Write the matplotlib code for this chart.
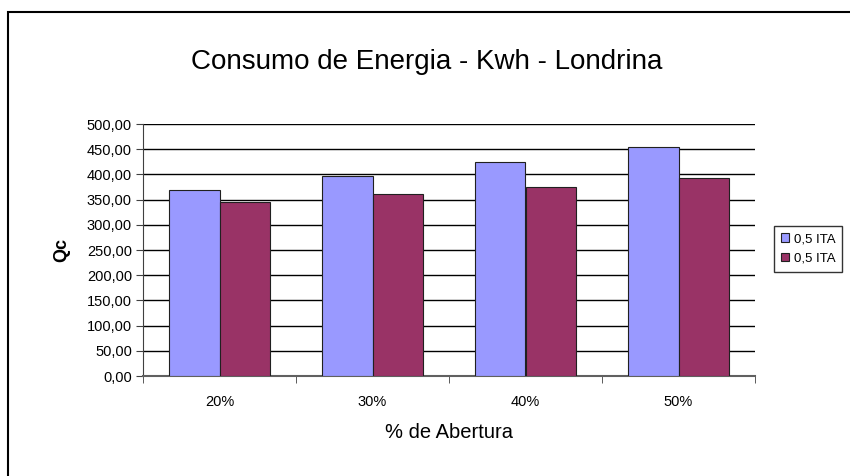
import matplotlib
matplotlib.use("Agg")
import matplotlib.pyplot as plt
import numpy as np
from matplotlib.patches import Rectangle

categories = ["20%", "30%", "40%", "50%"]
series_names = ["0,5 ITA", "0,5 ITA"]
blue_values = [369, 397, 425, 454]
red_values = [345, 362, 375, 393]
y_ticks = [0, 50, 100, 150, 200, 250, 300, 350, 400, 450, 500]
y_tick_labels = ["0,00", "50,00", "100,00", "150,00", "200,00", "250,00",
                 "300,00", "350,00", "400,00", "450,00", "500,00"]

plt.rcParams['font.family'] = ['Liberation Sans', 'DejaVu Sans']

fig = plt.figure(figsize=(8.5, 4.76), dpi=100)
fig.patch.set_facecolor('white')
ax = fig.add_axes([143/850, 1-376/476, (755-143)/850, (376-124)/476])

x = np.arange(len(categories))
w = 0.333
ax.bar(x - w/2, blue_values, width=w, color='#9999FF', edgecolor='#202020', linewidth=0.8,
       label=series_names[0], zorder=3)
ax.bar(x + w/2, red_values, width=w, color='#993366', edgecolor='#202020', linewidth=0.8,
       label=series_names[1], zorder=3)

ax.set_xlim(-0.5, len(categories) - 0.5)
ax.set_ylim(0, 500)
ax.set_yticks(y_ticks)
ax.set_yticklabels(y_tick_labels, fontsize=10.5)
ax.yaxis.grid(True, color='black', linewidth=1.0, zorder=0)
ax.set_axisbelow(True)

ax.set_xticks(x)
ax.set_xticklabels(categories, fontsize=10.5)
ax.tick_params(axis='x', length=0, pad=14)
ax.set_xticks(np.arange(-0.5, len(categories)), minor=True)
ax.tick_params(axis='x', which='minor', length=5, color='#404040', direction='out')
ax.tick_params(axis='y', length=5, color='#404040', direction='out', pad=3)

for s in ['top', 'right']:
    ax.spines[s].set_visible(False)
ax.spines['left'].set_color('#404040')
ax.spines['bottom'].set_color('#606060')
ax.spines['bottom'].set_linewidth(1.5)

ax.set_xlabel("% de Abertura", fontsize=14.5, labelpad=10)
ax.set_ylabel("Qc", fontsize=13, fontweight='bold', labelpad=12)

fig.text(427/850, 1-62/476, "Consumo de Energia - Kwh - Londrina", fontsize=20,
         ha='center', va='center')

leg = ax.legend(loc='center left', bbox_to_anchor=(774/850, 1-249/476),
                bbox_transform=fig.transFigure, fontsize=9.5, frameon=True,
                fancybox=False, edgecolor='black', handlelength=0.6, handleheight=0.6,
                handletextpad=0.4, borderpad=0.5, labelspacing=0.6, borderaxespad=0)
leg.get_frame().set_linewidth(1.0)

fig.patches.append(Rectangle((8/850, -0.1), 1.0, 1.1 - 12/476 + 0.0,
                             transform=fig.transFigure, fill=False,
                             edgecolor='black', linewidth=1.5))

fig.savefig("out.png", dpi=100)
